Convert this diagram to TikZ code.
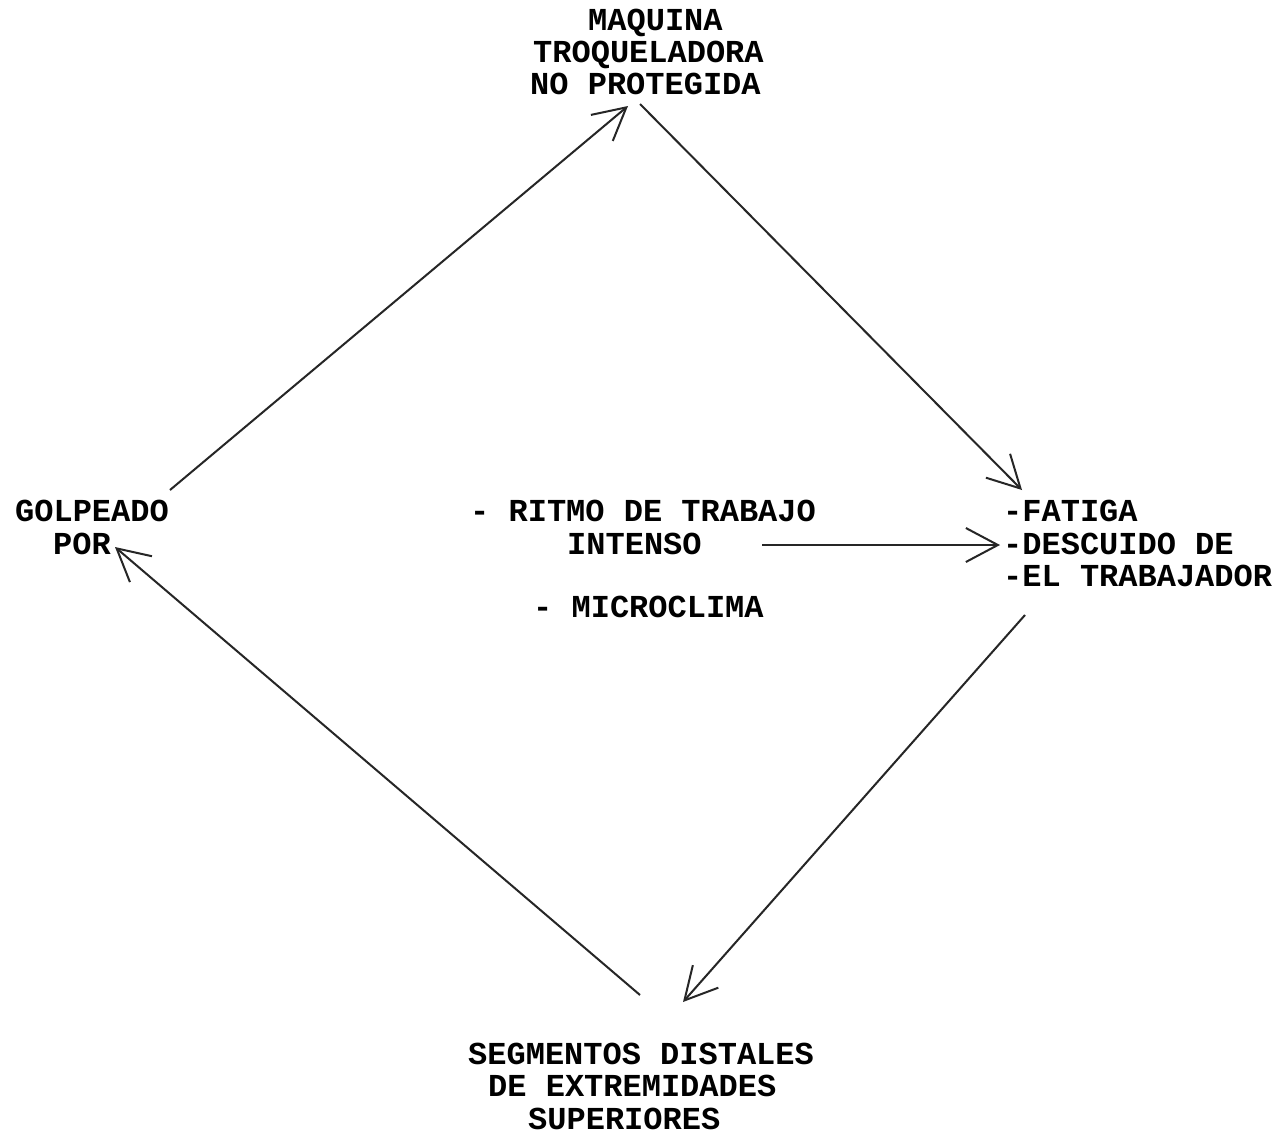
\documentclass[tikz,border=0pt]{standalone}
\usepackage{fontspec}
\newfontfamily\typew{Liberation Mono}
\usetikzlibrary{arrows.meta}
\begin{document}
\begin{tikzpicture}[x=1pt,y=-1pt,
  txt/.style={anchor=base west,inner sep=0pt,font=\typew\bfseries\fontsize{32}{33}\selectfont},
  conn/.style={draw=black!85,line width=2pt,-{Straight Barb[length=32pt,width=34pt,line width=2pt]}}]
\useasboundingbox[fill=white] (0,0) rectangle (1280,1141);
% top
\node[txt] (t1) at (588,30) {MAQUINA};
\node[txt] (t2) at (533,62) {TROQUELADORA};
\node[txt] (t3) at (530,94) {NO PROTEGIDA};
% left
\node[txt] (g1) at (15,521) {GOLPEADO};
\node[txt] (g2) at (53,554) {POR};
% center
\node[txt] (c1) at (470,521) {- RITMO DE TRABAJO};
\node[txt] (c2) at (567,554) {INTENSO};
\node[txt] (c3) at (533,617) {- MICROCLIMA};
% right
\node[txt] (r1) at (1003,521) {-FATIGA};
\node[txt] (r2) at (1003,554) {-DESCUIDO DE};
\node[txt] (r3) at (1003,586) {-EL TRABAJADOR};
% bottom
\node[txt] (b1) at (468,1064) {SEGMENTOS DISTALES};
\node[txt] (b2) at (488,1096) {DE EXTREMIDADES};
\node[txt] (b3) at (528,1129) {SUPERIORES};
% connector ends
\coordinate (gNE) at (170,490);
\coordinate (tSW) at (628,106);
\coordinate (tSE) at (640,104);
\coordinate (rNW) at (1022,490);
\coordinate (cE) at (762,545);
\coordinate (rW) at (1000,545);
\coordinate (rSW) at (1025,615);
\coordinate (bN) at (683,1002);
\coordinate (bNW) at (640,995);
\coordinate (gE) at (115,547);
\draw[conn] (gNE) -- (tSW);
\draw[conn] (tSE) -- (rNW);
\draw[conn] (cE) -- (rW);
\draw[conn] (rSW) -- (bN);
\draw[conn] (bNW) -- (gE);
\end{tikzpicture}
\end{document}
